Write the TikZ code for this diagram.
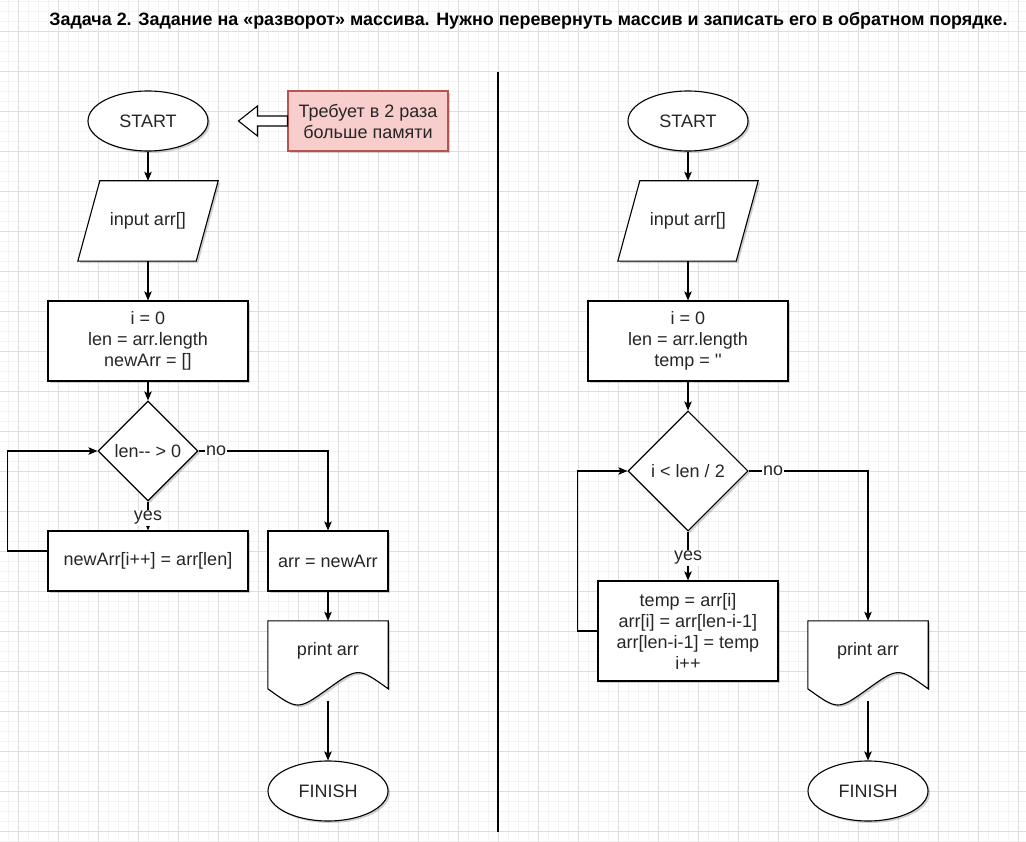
\documentclass[tikz,border=0pt]{standalone}
\usepackage{fontspec}
\setmainfont{Liberation Sans}[Ligatures=TeXOff]
\usetikzlibrary{shapes.geometric,arrows.meta,calc,shadows}
\definecolor{gridmajor}{RGB}{222,222,222}
\definecolor{gridminor}{RGB}{243,243,243}
\definecolor{notefill}{HTML}{F8CECC}
\definecolor{notedraw}{HTML}{B85450}
\tikzset{
  shp/.style={line width=1.1pt, draw=black, fill=white,
    drop shadow={shadow xshift=2pt, shadow yshift=-2pt, opacity=0.18, fill=black}},
  txt/.style={font=\fontsize{18}{21}\selectfont, align=center, text=black!85},
  term/.style={shp, txt, ellipse, minimum width=120pt, minimum height=60pt, inner sep=0pt},
  proc/.style={shp, txt, rectangle, inner sep=0pt},
  cond/.style={shp, txt, diamond, inner sep=0pt, aspect=1},
  ghost/.style={txt, rectangle, inner sep=0pt},
  conn/.style={line width=1.1pt, -{Stealth[length=9pt,width=7.5pt,inset=2pt]}},
  elab/.style={txt, fill=white, inner sep=1pt},
  ttl/.style={font=\fontsize{17.9}{21}\selectfont\bfseries},
}
\begin{document}
\begin{tikzpicture}[x=1pt,y=-1pt]
\useasboundingbox (0,0) rectangle (1026,842);
\fill[white] (0,0) rectangle (1026,842);
% grid
\foreach \x in {8,18,...,1026} \draw[gridminor,line width=0.8pt] (\x,0) -- (\x,842);
\foreach \y in {1,11,...,842} \draw[gridminor,line width=0.8pt] (0,\y) -- (1026,\y);
\foreach \x in {18,58,...,1026} \draw[gridmajor,line width=0.9pt] (\x,0) -- (\x,842);
\foreach \y in {31,71,...,842} \draw[gridmajor,line width=0.9pt] (0,\y) -- (1026,\y);

% title
\node[ttl] (title) at (528.5,21) {Задача 2. Задание на «разворот» массива. Нужно перевернуть массив и записать его в обратном порядке.};

% divider
\coordinate (dtop) at (498,72);
\coordinate (dbot) at (498,832);
\draw[line width=1.2pt] (dtop) -- (dbot);

% ---------- left ----------
\node[term] (s1) at (148,121) {START};
\node[shp, fill=notefill, draw=notedraw, txt, minimum width=160pt, minimum height=60pt, inner sep=0pt] (note) at (368,121) {Требует в 2 раза\\больше памяти};
\draw[line width=1.1pt, fill=white] (note.west) -- ++(0,-5) -- ++(-30,0) -- ++(0,-10) -- ++(-19,15) -- ++(19,15) -- ++(0,-10) -- ++(30,0) -- cycle;

\node[ghost, minimum width=140pt, minimum height=80pt] (in1) at (148,221) {};
\draw[shp] ($(in1.north west)+(22,0)$) -- (in1.north east) -- ($(in1.south east)+(-22,0)$) -- (in1.south west) -- cycle;
\node[txt] at (in1) {input arr[]};

\node[proc, minimum width=200pt, minimum height=80pt] (r1) at (148,341) {i = 0\\len = arr.length\\newArr = []};
\node[cond, minimum width=100pt, minimum height=100pt] (d1) at (148,451) {};
\node[txt] at (d1) {len-{}- > 0};
\node[proc, minimum width=200pt, minimum height=60pt] (r2) at (148,561) {newArr[i++] = arr[len]};
\node[proc, minimum width=120pt, minimum height=60pt] (r3) at (328,561) {arr = newArr};

\node[ghost, minimum width=120pt, minimum height=80pt] (p1) at (328,661) {};
\draw[shp] (p1.north west) -- (p1.north east) -- ($(p1.north east)+(0,68)$)
  .. controls ($(p1.north east)+(-30,46.4)$) .. ($(p1.north)+(0,68)$)
  .. controls ($(p1.north west)+(30,89.6)$) .. ($(p1.north west)+(0,68)$) -- cycle;
\node[txt] at ($(p1.center)+(0,-10)$) {print arr};

\node[term] (f1) at (328,791) {FINISH};

\draw[conn] (s1) -- (in1);
\draw[conn] (in1) -- (r1);
\draw[conn] (r1) -- (d1);
\draw[conn] (d1.south) -- (r2.north) node[elab, pos=0.5, yshift=-2pt] {yes};
\draw[conn] (d1.east) -| (r3.north) node[elab, pos=0.0, anchor=west, xshift=6pt] {no};
\draw[conn] ($(r2.west)+(0,-10)$) -- ++(-40,0) |- (d1.west);
\draw[conn] (r3) -- (p1);
\draw[conn] (p1) -- (f1);

% ---------- right ----------
\node[term] (s2) at (688,121) {START};
\node[ghost, minimum width=140pt, minimum height=80pt] (in2) at (688,221) {};
\draw[shp] ($(in2.north west)+(22,0)$) -- (in2.north east) -- ($(in2.south east)+(-22,0)$) -- (in2.south west) -- cycle;
\node[txt] at (in2) {input arr[]};

\node[proc, minimum width=200pt, minimum height=80pt] (r4) at (688,341) {i = 0\\len = arr.length\\temp = ''};
\node[cond, minimum width=120pt, minimum height=120pt] (d2) at (688,471) {};
\node[txt] at (d2) {i < len / 2};
\node[proc, minimum width=180pt, minimum height=100pt] (r5) at (688,631) {temp = arr[i]\\arr[i] = arr[len-i-1]\\arr[len-i-1] = temp\\i++};

\node[ghost, minimum width=120pt, minimum height=80pt] (p2) at (868,661) {};
\draw[shp] (p2.north west) -- (p2.north east) -- ($(p2.north east)+(0,68)$)
  .. controls ($(p2.north east)+(-30,46.4)$) .. ($(p2.north)+(0,68)$)
  .. controls ($(p2.north west)+(30,89.6)$) .. ($(p2.north west)+(0,68)$) -- cycle;
\node[txt] at ($(p2.center)+(0,-10)$) {print arr};

\node[term] (f2) at (868,791) {FINISH};

\draw[conn] (s2) -- (in2);
\draw[conn] (in2) -- (r4);
\draw[conn] (r4) -- (d2);
\draw[conn] (d2.south) -- (r5.north) node[elab, pos=0.5, yshift=-2pt] {yes};
\draw[conn] (d2.east) -| (p2.north) node[elab, pos=0.0, anchor=west, xshift=13pt] {no};
\draw[conn] (r5.west) -- ++(-20,0) |- (d2.west);
\draw[conn] (p2) -- (f2);
\end{tikzpicture}
\end{document}
